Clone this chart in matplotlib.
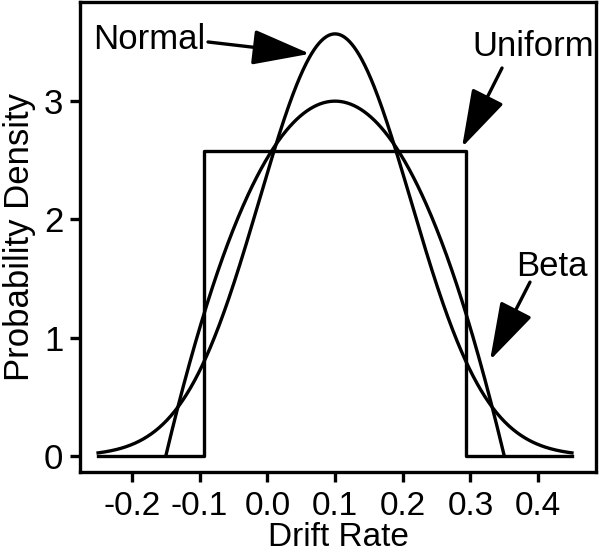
import math
import numpy as np
import matplotlib
matplotlib.use("Agg")
import matplotlib.pyplot as plt

plt.rcParams['font.family'] = ['Liberation Sans', 'DejaVu Sans']

# distribution parameters (all centred at 0.1)
drift_range = [-0.25, 0.45]
normal_mean = 0.1
normal_sd = 0.1118
uniform_lo = -0.0936
uniform_hi = 0.2936
beta_lo = -0.15
beta_hi = 0.35
beta_a = 2
beta_b = 2

x_ticks = [-0.2, -0.1, 0.0, 0.1, 0.2, 0.3, 0.4]
x_ticklabels = ["-0.2", "-0.1", "0.0", "0.1", "0.2", "0.3", "0.4"]
y_ticks = [0, 1, 2, 3]

x = np.linspace(drift_range[0], drift_range[1], 600)

# normal density
normal_y = np.exp(-0.5 * ((x - normal_mean) / normal_sd) ** 2) / (normal_sd * math.sqrt(2 * math.pi))

# uniform density as a step outline
u_h = 1 / (uniform_hi - uniform_lo)
uniform_x = [drift_range[0], uniform_lo, uniform_lo, uniform_hi, uniform_hi, drift_range[1]]
uniform_y = [0, 0, u_h, u_h, 0, 0]

# scaled beta density on its support
bx = np.linspace(beta_lo, beta_hi, 400)
w = beta_hi - beta_lo
t = (bx - beta_lo) / w
B = math.gamma(beta_a) * math.gamma(beta_b) / math.gamma(beta_a + beta_b)
beta_y = t ** (beta_a - 1) * (1 - t) ** (beta_b - 1) / B / w

fig = plt.figure(figsize=(6, 5.56), dpi=100)
ax = fig.add_axes([80 / 600, (556 - 472) / 556, 516 / 600, 470 / 556])

lw = 2.4
fs = 25
ax.plot(x, normal_y, color="black", lw=lw)
ax.plot(uniform_x, uniform_y, color="black", lw=lw)
ax.plot(bx, beta_y, color="black", lw=lw)

ax.set_xlim(-0.2767, 0.4855)
ax.set_ylim(-0.135, 3.838)
ax.set_xticks(x_ticks)
ax.set_xticklabels(x_ticklabels)
ax.set_yticks(y_ticks)
ax.tick_params(direction="out", length=7, width=2.4, labelsize=fs, pad=5)
ax.tick_params(axis="x", labelsize=24, pad=7)
for s in ax.spines.values():
    s.set_linewidth(2.4)

ax.set_xlabel("Drift Rate", fontsize=24, labelpad=0)
ax.set_ylabel("Probability Density", fontsize=fs, labelpad=6)

# labels with arrows
arrow = dict(arrowstyle="-|>,head_length=1.8,head_width=0.55", lw=2.4,
             color="black", shrinkA=0, shrinkB=0, mutation_scale=20)
ax.text(-0.175, 3.52, "Normal", fontsize=fs, ha="center", va="center")
ax.annotate("", xy=(0.063, 3.40), xytext=(-0.0876, 3.50), arrowprops=arrow)
ax.text(0.3925, 3.46, "Uniform", fontsize=fs, ha="center", va="center")
ax.annotate("", xy=(0.2876, 2.61), xytext=(0.3467, 3.28), arrowprops=arrow)
ax.text(0.42, 1.60, "Beta", fontsize=fs, ha="center", va="center")
ax.annotate("", xy=(0.329, 0.81), xytext=(0.388, 1.47), arrowprops=arrow)

fig.savefig("out.png", dpi=100)
